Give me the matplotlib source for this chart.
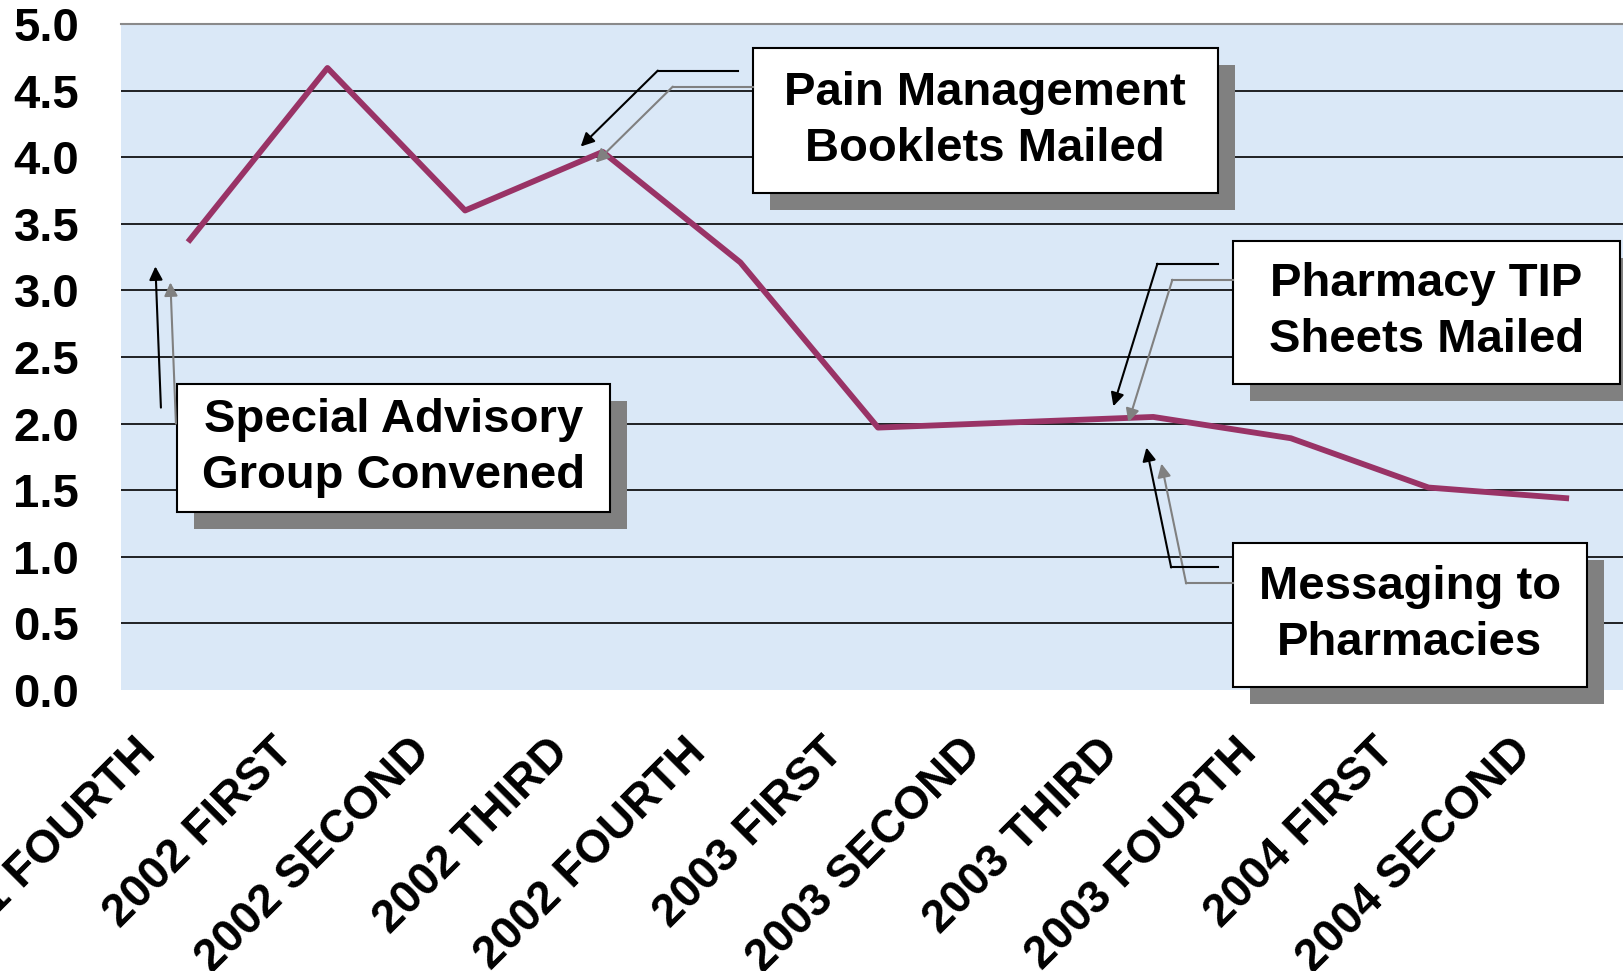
import numpy as np
import matplotlib
matplotlib.use("Agg")
import matplotlib.pyplot as plt
import matplotlib.transforms as mtransforms
from matplotlib.patches import Rectangle

plt.rcParams["font.family"] = ["Liberation Sans", "DejaVu Sans"]
plt.rcParams["font.weight"] = "bold"

# data
quarters = ["2001 FOURTH", "2002 FIRST", "2002 SECOND", "2002 THIRD", "2002 FOURTH",
            "2003 FIRST", "2003 SECOND", "2003 THIRD", "2003 FOURTH",
            "2004 FIRST", "2004 SECOND"]
values = [3.38, 4.67, 3.60, 4.04, 3.21, 1.97, 2.01, 2.05, 1.89, 1.52, 1.44]
yticks = [0.0, 0.5, 1.0, 1.5, 2.0, 2.5, 3.0, 3.5, 4.0, 4.5, 5.0]

# callout boxes: text, (x0, x1, y0, y1) in data units
callouts = [
    ("Pain Management\nBooklets Mailed", (4.09, 7.47, 3.73, 4.82)),
    ("Special Advisory\nGroup Convened", (-0.09, 3.05, 1.34, 2.30)),
    ("Pharmacy TIP\nSheets Mailed", (7.58, 10.39, 2.30, 3.37)),
    ("Messaging to\nPharmacies", (7.58, 10.15, 0.02, 1.10)),
]
# elbow arrows: path points, last one is the arrow tip
arrows = [
    [(3.98, 4.65), (3.40, 4.65), (2.84, 4.08)],
    [(-0.21, 2.12), (-0.25, 3.18)],
    [(7.47, 3.20), (7.03, 3.20), (6.71, 2.13)],
    [(7.47, 0.92), (7.13, 0.92), (6.95, 1.82)],
]

fig = plt.figure(figsize=(16.23, 9.71), dpi=100)
ax = fig.add_axes([121 / 1623, 1 - 690 / 971, 1514 / 1623, 666 / 971])
ax.set_facecolor("#dae8f7")

x = np.arange(len(quarters))
ax.plot(x, values, color="#993366", lw=4.2, zorder=3)

ax.set_xlim(-0.5, len(quarters) - 0.5)
ax.set_ylim(0, 5)
ax.set_yticks(yticks)
ax.set_yticklabels([f"{v:.1f}" for v in yticks], fontsize=34, fontweight="bold")
ax.set_xticks(x)
ax.set_xticklabels(quarters, fontsize=33, fontweight="bold", rotation=45,
                   ha="right", va="center", rotation_mode="anchor")
ax.tick_params(axis="both", length=0)
ax.tick_params(axis="y", pad=30)
ax.tick_params(axis="x", pad=40)
shift = mtransforms.ScaledTranslation(-0.41, 0, fig.dpi_scale_trans)
for lbl in ax.get_xticklabels():
    lbl.set_transform(lbl.get_transform() + shift)

ax.grid(axis="y", color="black", lw=1.2, zorder=1)
ax.set_axisbelow(True)
gl = ax.yaxis.get_gridlines()
gl[0].set_visible(False)
gl[-1].set_visible(False)
for s in ["left", "right", "bottom"]:
    ax.spines[s].set_visible(False)
ax.spines["top"].set_color("#8a8a8a")
ax.spines["top"].set_linewidth(1.5)

# callouts with drop shadow
shadow_tr = mtransforms.offset_copy(ax.transData, fig=fig, x=17, y=-17, units="dots")
for text, (x0, x1, y0, y1) in callouts:
    ax.add_patch(Rectangle((x0, y0), x1 - x0, y1 - y0, transform=shadow_tr,
                           facecolor="#808080", edgecolor="none", zorder=5, clip_on=False))
    ax.add_patch(Rectangle((x0, y0), x1 - x0, y1 - y0, facecolor="white",
                           edgecolor="black", lw=1.5, zorder=6, clip_on=False))
    ax.text((x0 + x1) / 2, (y0 + y1) / 2, text, ha="center", va="center",
            fontsize=34, fontweight="bold", linespacing=1.35, zorder=7)

# connectors: grey shadow copy first, then black
gray_tr = mtransforms.offset_copy(ax.transData, fig=fig, x=15, y=-16, units="dots")
for pts in arrows:
    for color, tr, z in [("#808080", gray_tr, 8), ("black", ax.transData, 9)]:
        xs = [p[0] for p in pts[:-1]]
        ys = [p[1] for p in pts[:-1]]
        if len(xs) > 1:
            ax.plot(xs, ys, color=color, lw=1.5, transform=tr, zorder=z, clip_on=False)
        ax.annotate("", xy=pts[-1], xytext=pts[-2], xycoords=tr, textcoords=tr,
                    arrowprops=dict(arrowstyle="-|>", color=color, lw=1.5,
                                    mutation_scale=20, shrinkA=0, shrinkB=0),
                    zorder=z, annotation_clip=False)

fig.savefig("out.png", dpi=100)
